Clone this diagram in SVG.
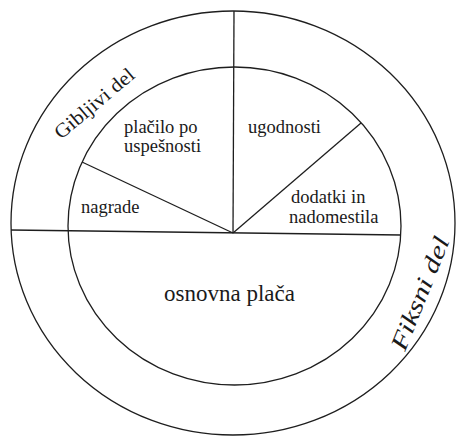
<svg xmlns="http://www.w3.org/2000/svg" width="456" height="437" viewBox="0 0 456 437">
<style>
.ln{fill:none;stroke:#1e1e1e;stroke-width:1.3}
text{fill:#1a1a1a}
</style>
<rect width="456" height="437" fill="#ffffff"/>
<g id="rings">
<ellipse class="ln" cx="233" cy="223" rx="222" ry="212"/>
<ellipse class="ln" cx="234.5" cy="226" rx="166.5" ry="159"/>
</g>
<g id="connectors">
<line class="ln" x1="11" y1="230" x2="401" y2="235"/>
<line class="ln" x1="234" y1="11" x2="233" y2="233"/>
<line class="ln" x1="233" y1="233" x2="82" y2="162"/>
<line class="ln" x1="233" y1="233" x2="361" y2="123"/>
</g>
<g id="node-placilo"><text x="124" y="133" font-family="Liberation Serif" font-size="18.5" style="font-family:'Liberation Serif',serif !important">plačilo po</text><text x="124" y="152" font-family="Liberation Serif" font-size="18.5" style="font-family:'Liberation Serif',serif !important">uspešnosti</text></g>
<g id="node-ugodnosti"><text x="248" y="133" font-family="Liberation Serif" font-size="18.5" style="font-family:'Liberation Serif',serif !important">ugodnosti</text></g>
<g id="node-nagrade"><text x="81" y="213" font-family="Liberation Serif" font-size="18.5" style="font-family:'Liberation Serif',serif !important">nagrade</text></g>
<g id="node-dodatki"><text x="291" y="203" font-family="Liberation Serif" font-size="18.5" style="font-family:'Liberation Serif',serif !important">dodatki in</text><text x="289" y="223" font-family="Liberation Serif" font-size="18.5" style="font-family:'Liberation Serif',serif !important">nadomestila</text></g>
<g id="node-osnovna"><text x="164" y="301" font-family="Liberation Serif" font-size="23" style="font-family:'Liberation Serif',serif !important">osnovna plača</text></g>
<g id="label-gibljivi"><text font-family="Liberation Serif" font-size="20" style="font-family:'Liberation Serif',serif !important" transform="translate(61 140) rotate(-40)" textLength="98" lengthAdjust="spacingAndGlyphs">Gibljivi del</text></g>
<g id="label-fiksni"><text font-family="Liberation Serif" font-size="24" font-style="italic" style="font-family:'Liberation Serif',serif !important" transform="translate(405 352) rotate(-68)" textLength="120" lengthAdjust="spacingAndGlyphs">Fiksni del</text></g>
</svg>
